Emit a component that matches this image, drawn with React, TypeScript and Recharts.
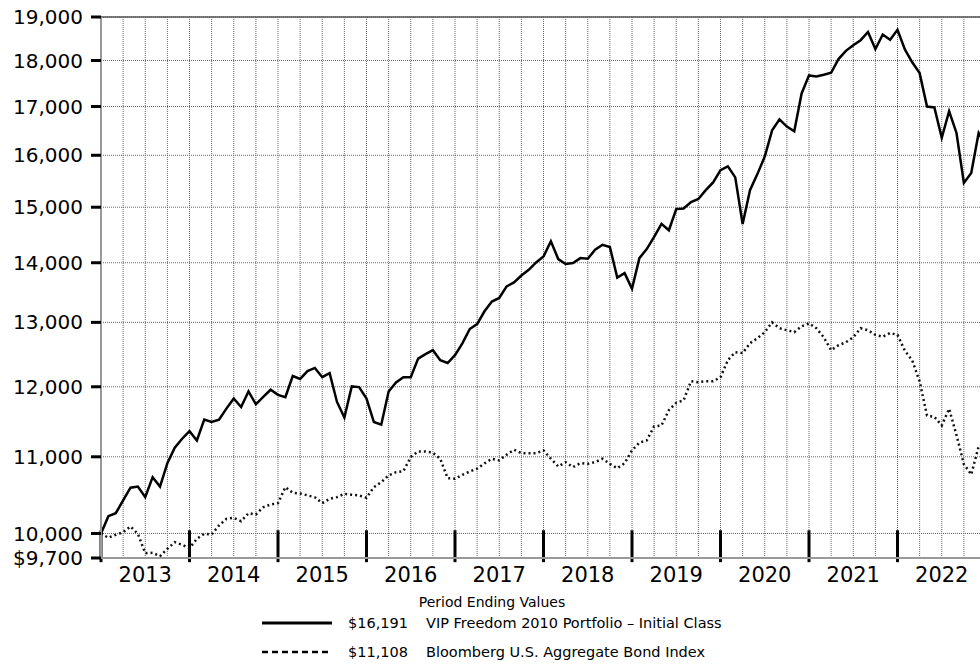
import {
  LineChart,
  Line,
  XAxis,
  YAxis,
  CartesianGrid,
  ReferenceLine,
} from "recharts";

// month index 0 = Dec 2012, 120 = Dec 2022
const fundValues = [
  10000, 10217, 10255, 10419, 10585, 10600, 10462, 10725, 10600, 10913, 11124, 11250,
  11356, 11226, 11520, 11486, 11520, 11679, 11826, 11702, 11930, 11742, 11850, 11956,
  11880, 11846, 12162, 12118, 12236, 12284, 12144, 12206, 11776, 11550, 12005, 11995,
  11826, 11486, 11448, 11930, 12064, 12144, 12144, 12427, 12496, 12558, 12402, 12360,
  12480, 12664, 12893, 12973, 13180, 13340, 13400, 13595, 13662, 13780, 13877, 14005,
  14109, 14379, 14064, 13977, 13994, 14081, 14069, 14227, 14316, 14275, 13745, 13820,
  13553, 14081, 14239, 14456, 14693, 14577, 14965, 14976, 15098, 15154, 15321, 15470,
  15707, 15780, 15566, 14691, 15321, 15630, 15974, 16504, 16730, 16580, 16484, 17278,
  17670, 17648, 17684, 17728, 18032, 18217, 18347, 18460, 18650, 18260, 18590, 18470,
  18700, 18250, 17960, 17720, 17000, 16980, 16350, 16900, 16450, 15460, 15650, 16450,
  16191,
];

const bondValues = [
  10000, 9947, 9984, 10016, 10087, 9996, 9758, 9763, 9722, 9811, 9893, 9860,
  9819, 9934, 9996, 9988, 10100, 10184, 10197, 10154, 10255, 10239, 10332, 10367,
  10384, 10593, 10519, 10510, 10485, 10460, 10384, 10441, 10462, 10506, 10493, 10484,
  10454, 10593, 10659, 10748, 10792, 10806, 10996, 11074, 11074, 11056, 10973, 10712,
  10704, 10757, 10801, 10838, 10910, 10973, 10950, 11028, 11097, 11050, 11050, 11050,
  11088, 10973, 10869, 10927, 10860, 10913, 10904, 10927, 10973, 10904, 10845, 10913,
  11088, 11194, 11226, 11424, 11438, 11656, 11764, 11800, 12083, 12068, 12083, 12083,
  12144, 12404, 12528, 12512, 12667, 12746, 12842, 13000, 12905, 12874, 12842, 12937,
  12984, 12905, 12762, 12558, 12636, 12683, 12762, 12905, 12874, 12800, 12770, 12830,
  12800, 12550, 12400, 12080, 11580, 11560, 11437, 11676, 11300, 10900, 10760, 11140,
  11108,
];

const yearLabels = ["2013", "2014", "2015", "2016", "2017", "2018", "2019", "2020", "2021", "2022"];
const yTicks = [9700, 10000, 11000, 12000, 13000, 14000, 15000, 16000, 17000, 18000, 19000];

const yearCenters = yearLabels.map((_, i) => i * 12 + 6);
const yearStarts = yearLabels.map((_, i) => i * 12);
const quarterTicks = Array.from({ length: 41 }, (_, i) => i * 3);

const chartData = fundValues.map((fund, i) => ({
  month: i,
  fund,
  bond: bondValues[i],
}));

const font = "'DejaVu Sans', Verdana, sans-serif";

export default function App() {
  return (
    <div
      style={{
        position: "absolute",
        left: 0,
        top: 0,
        width: 980,
        height: 670,
        overflow: "hidden",
        background: "#fff",
        fontFamily: font,
      }}
    >
      <LineChart
        width={1000}
        height={670}
        data={chartData}
        margin={{ top: 17, right: 14, left: 11, bottom: 0 }}
      >
        <CartesianGrid stroke="#666" strokeDasharray="1 1" xAxisId="q" />
        <XAxis
          xAxisId="q"
          dataKey="month"
          type="number"
          domain={[0, 120]}
          ticks={quarterTicks}
          interval={0}
          hide
          allowDataOverflow
        />
        <XAxis
          dataKey="month"
          type="number"
          domain={[0, 120]}
          ticks={yearCenters}
          tickFormatter={(v) => yearLabels[(v - 6) / 12]}
          tickLine={false}
          tickSize={0}
          tickMargin={9}
          height={112}
          axisLine={{ stroke: "#999", strokeWidth: 2 }}
          tick={{ fill: "#000", fontSize: 21, fontFamily: font }}
          interval={0}
          allowDataOverflow
        />
        <YAxis
          scale="log"
          domain={[9700, 19000]}
          ticks={yTicks}
          width={90}
          interval={0}
          allowDataOverflow
          tickSize={10}
          tickMargin={8}
          tickLine={{ stroke: "#000", strokeWidth: 3 }}
          axisLine={{ stroke: "#999", strokeWidth: 2 }}
          tick={{ fill: "#000", fontSize: 20, fontFamily: font }}
          tickFormatter={(v) =>
            v === 9700 ? "$9,700" : Number(v).toLocaleString("en-US")
          }
        />
        <ReferenceLine y={19000} stroke="#555" strokeWidth={1.5} />
        {yearStarts.map((s) => (
          <ReferenceLine
            key={s}
            segment={[
              { x: s, y: 9650 },
              { x: s, y: 10040 },
            ]}
            stroke="#000"
            strokeWidth={3}
            ifOverflow="visible"
          />
        ))}
        <Line
          dataKey="bond"
          stroke="#111"
          strokeWidth={2.5}
          strokeDasharray="2 3"
          dot={false}
          type="linear"
          isAnimationActive={false}
        />
        <Line
          dataKey="fund"
          stroke="#000"
          strokeWidth={2.5}
          dot={false}
          type="linear"
          isAnimationActive={false}
        />
      </LineChart>

      <div
        style={{
          position: "absolute",
          left: 0,
          width: 984,
          top: 594,
          textAlign: "center",
          fontSize: 14,
          color: "#000",
        }}
      >
        Period Ending Values
      </div>
      <LegendRow top={614} value="$16,191" label="VIP Freedom 2010 Portfolio – Initial Class" dashed={false} />
      <LegendRow top={643} value="$11,108" label="Bloomberg U.S. Aggregate Bond Index" dashed />
    </div>
  );
}

function LegendRow({
  top,
  value,
  label,
  dashed,
}: {
  top: number;
  value: string;
  label: string;
  dashed: boolean;
}) {
  return (
    <div style={{ position: "absolute", left: 0, top, height: 18, width: 980 }}>
      <svg
        width={72}
        height={18}
        style={{ position: "absolute", left: 261, top: 0 }}
      >
        <line
          x1={1}
          x2={71}
          y1={9}
          y2={9}
          stroke="#000"
          strokeWidth={dashed ? 2.5 : 3}
          strokeDasharray={dashed ? "6 4" : undefined}
        />
      </svg>
      <span style={{ position: "absolute", left: 348, top: 0, fontSize: 14.5, lineHeight: "18px" }}>
        {value}
      </span>
      <span style={{ position: "absolute", left: 426, top: 0, fontSize: 14.5, lineHeight: "18px" }}>
        {label}
      </span>
    </div>
  );
}
